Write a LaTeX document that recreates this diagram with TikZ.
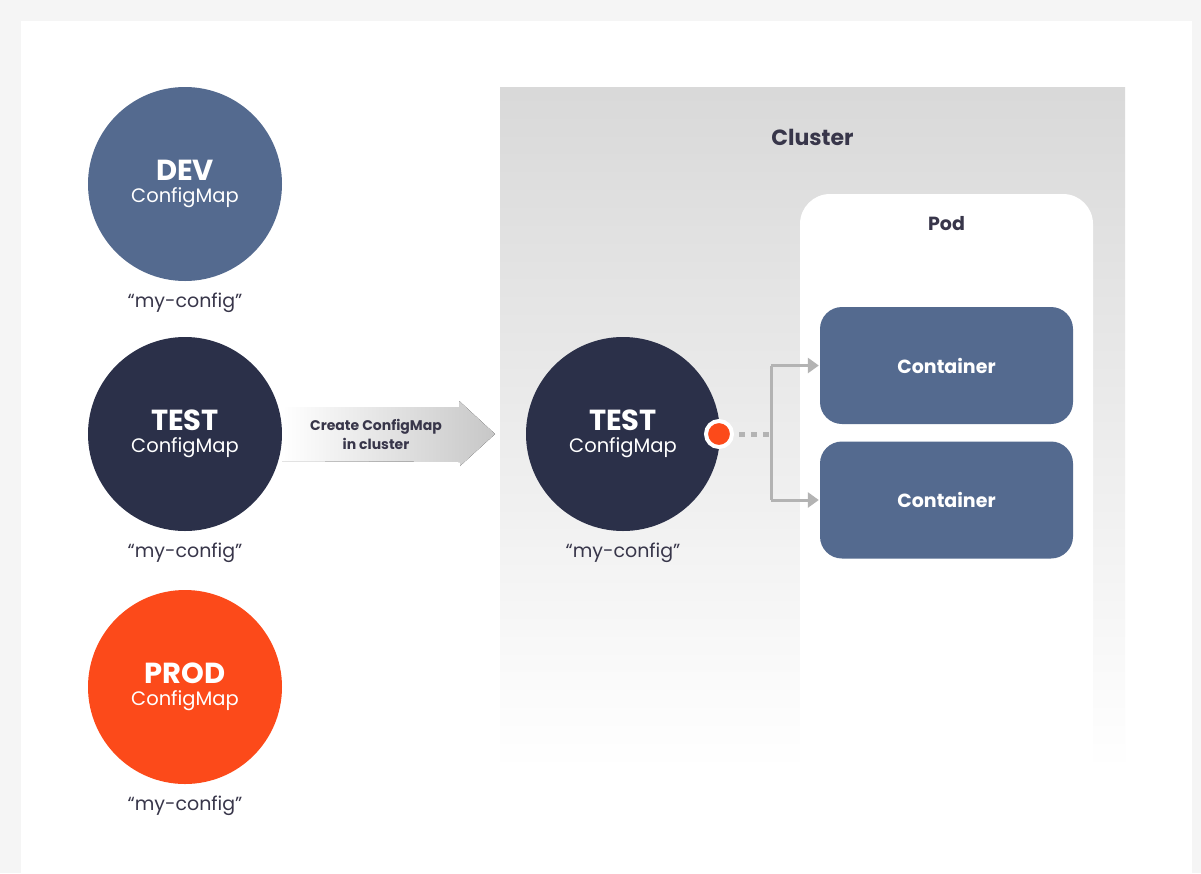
\documentclass[tikz,border=0pt]{standalone}
\usepackage{fontspec}
\setmainfont{Poppins}
\usepackage{tikz}
\usetikzlibrary{positioning,shapes,arrows.meta}
\definecolor{devblue}{HTML}{546A8F}
\definecolor{testnavy}{HTML}{2B3049}
\definecolor{prodred}{HTML}{FC4A1A}
\definecolor{titlegray}{HTML}{38364A}
\definecolor{linkgray}{HTML}{B3B3B3}
\newcommand{\cmname}[1]{{\fontsize{29}{32}\selectfont\bfseries #1}\\[6pt]{\fontsize{19.5}{24}\selectfont ConfigMap}}
\newcommand{\cfglabel}{``my-config''}

\begin{document}
\begin{tikzpicture}[
          x=1pt,y=-1pt,
          node distance=8pt and 8pt,
          cmap/.style={circle,minimum size=194pt,inner sep=0pt,text=white,align=center},
          cfg/.style={font=\fontsize{19}{23}\selectfont,text=titlegray},
          box/.style={fill=devblue,rounded corners=22pt,minimum width=253pt,minimum height=117pt,
            text=white,font=\fontsize{19}{22}\selectfont\bfseries},
          title/.style={text=titlegray,font=\bfseries},
          tip/.style={-{Triangle[length=11pt,width=15pt]},shorten >=1pt}
            ]
            % page and card
            \fill[black!4] (0,0) rectangle (1201,873);
            \fill[white] (21,21) rectangle (1192,873);
            \useasboundingbox (0,0) rectangle (1201,873);
            % cluster and pod
            \node[rectangle,top color=black!15,bottom color=white,minimum width=625pt,minimum height=683pt,inner sep=0pt] (cluster) at (812.5,428.5) {};
            \node[title,font=\fontsize{22}{26}\selectfont\bfseries,below=39pt of cluster.north] {Cluster};
            \node[fill=white,rounded corners=30pt,minimum width=293pt,minimum height=620pt,inner sep=0pt] (pod) at (946.5,504) {};
            \node[title,font=\fontsize{19}{22}\selectfont\bfseries,below=19pt of pod.north] {Pod};
            \node[box] (c1) at (946.5,365.5) {Container};
            \node[box] (c2) at (946.5,500) {Container};
            % configmaps
            \node[cmap,fill=devblue] (dev) at (185,184) {\cmname{DEV}};
            \node[cfg,below=of dev] {\cfglabel};
            \node[cmap,fill=testnavy] (test) at (185,434) {\cmname{TEST}};
            \node[cfg,below=of test] {\cfglabel};
            \node[cmap,fill=prodred] (prod) at (185,687) {\cmname{PROD}};
            \node[cfg,below=of prod] {\cfglabel};
            % create arrow
            \fill[left color=white,right color=black!22] (test.east) ++(0,-27) -- ++(177,0) -- ++(0,-6)
              -- (495,434) -- (460,466) -- ++(0,-4) -- (test.east |- 0,461) -- cycle;
            \node[text=titlegray,font=\fontsize{14}{19}\selectfont\bfseries,align=center] (create) at (376,434) {Create ConfigMap\\in cluster};
            \node[cmap,fill=testnavy] (ctest) at (623,434) {\cmname{TEST}};
            \node[cfg,below=of ctest] {\cfglabel};
            % mount
            \node[circle,fill=prodred,draw=white,line width=4pt,minimum size=26pt,inner sep=0pt] (dot) at (719,434) {};
            \coordinate (join) at (771,434);
            \draw[linkgray,line width=5pt,dash pattern=on 6pt off 6pt,shorten <=5pt] (dot.east) -- (join);
            \path[linkgray,line width=3pt]
            (join) edge (join |- c1.west) (join |- c1.west) edge[tip] (c1.west)
            (join) edge (join |- c2.west) (join |- c2.west) edge[tip] (c2.west);
            \end{tikzpicture}
\end{document}
